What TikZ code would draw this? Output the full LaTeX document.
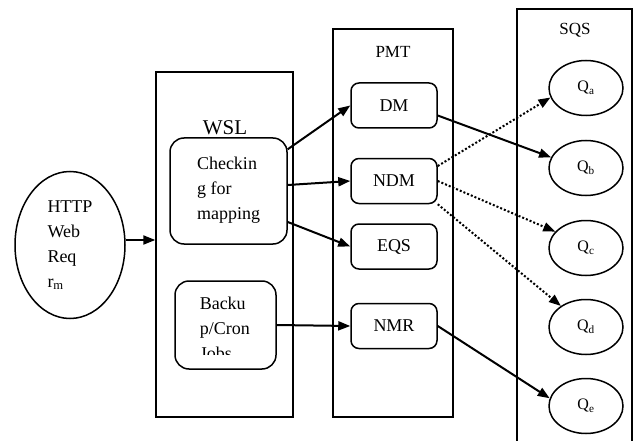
\documentclass[tikz,border=0pt]{standalone}
\usepackage{fontspec}
\setmainfont{Liberation Serif}
\usepackage{tikz}
\usetikzlibrary{
  arrows.meta,
  shapes.geometric
}
\tikzset{
  layer box/.style={
    draw=black,
    line width=1.4pt,
    inner sep=0pt
  },
  layer label/.style={
    font=\fontsize{17}{20}\selectfont
  },
  task box/.style={
    draw=black,
    line width=1.5pt,
    rounded corners=14pt,
    align=left,
    font=\fontsize{18}{25}\selectfont
  },
  module box/.style={
    draw=black,
    line width=1.5pt,
    rounded corners=8pt,
    minimum width=86pt,
    minimum height=45pt,
    font=\fontsize{18}{22}\selectfont
  },
  queue node/.style={
    ellipse,
    draw=black,
    line width=1.5pt,
    minimum width=74pt,
    minimum height=55pt,
    inner sep=0pt,
    font=\fontsize{16}{18}\selectfont
  },
  request node/.style={
    ellipse,
    draw=black,
    line width=1.5pt,
    minimum width=110pt,
    minimum height=147pt,
    inner sep=0pt,
    align=left,
    font=\fontsize{18}{25}\selectfont
  },
  flow arrow/.style={
    line width=2pt,
    -{Triangle[length=12pt,width=9pt]}
  },
  map arrow/.style={
    flow arrow,
    dotted
  }
}

\begin{document}
\begin{tikzpicture}[x=1pt,y=-1pt]

    \useasboundingbox (0,0) rectangle (637,441);

    % ---------- request ----------
    \node[request node] (req) at (70,245)
      {HTTP\\Web\\Req\\r\textsubscript{m}};

    % ---------- layers ----------
    \node[layer box, minimum width=137pt, minimum height=345pt]
      (wsl) at (224.5,244.5) {};
    \node[layer box, minimum width=120pt, minimum height=388pt]
      (pmt) at (393,223) {};
    % SQS runs past the bottom edge
    \node[layer box, minimum width=115pt, minimum height=460pt]
      (sqs) at (574.5,239) {};

    \node[layer label, font=\fontsize{21}{24}\selectfont]
      (wsllabel) at (225,128) {WSL};
    \node[layer label] (pmtlabel) at (393,52) {PMT};
    \node[layer label] (sqslabel) at (575,30) {SQS};

    % ---------- WSL tasks ----------
    \node[task box, minimum width=117pt, minimum height=106pt]
      (check) at (228.5,191) {Checkin\\g for\\mapping\rule[-6pt]{0pt}{0pt}};

    \node[task box, minimum width=101pt, minimum height=88pt]
      (backup) at (225.5,325) {};
    % text cut off at the bottom of the box
    \begin{scope}
      \clip (175,281) rectangle (276,354);
      \node[task box, draw=none, inner sep=0pt, anchor=north west]
        (backuptext) at (199,296) {Backu\\p/Cron\\Jobs};
    \end{scope}

    % ---------- PMT modules ----------
    \node[module box] (dm)  at (394,105.5) {DM};
    \node[module box] (ndm) at (394,181)   {NDM};
    \node[module box] (eqs) at (394,246.5) {EQS};
    \node[module box] (nmr) at (394,326)   {NMR};

    % ---------- queues ----------
    \foreach \q/\y in {a/88, b/168, c/248, d/327, e/406}{
      \node[queue node] (q\q) at (586,\y) {Q\textsubscript{\q}};
    }

    % ---------- request -> WSL ----------
    \draw[flow arrow]
      ([yshift=5pt]req.east) -- ([yshift=5pt]req.east -| wsl.west);

    % ---------- WSL -> PMT ----------
    \draw[flow arrow] ([yshift=-12pt]check.north east) -- (dm.west);
    \draw[flow arrow] ([yshift=6pt]check.east) -- (ndm.west);
    \draw[flow arrow] ([yshift=-31pt]check.east) -- (eqs.west);
    \draw[flow arrow] (backup.east) -- (nmr.west);

    % ---------- PMT -> SQS ----------
    \draw[flow arrow] ([yshift=-10pt]dm.east) -- (qb.163);
    \draw[map arrow] ([yshift=15pt]ndm.east) -- (qa.195);
    \draw[map arrow] (ndm.east) -- (qc.152);
    \draw[map arrow] (ndm.south east) -- (qd.140);
    \draw[flow arrow] (nmr.east) -- (qe.168);

  \end{tikzpicture}
\end{document}
